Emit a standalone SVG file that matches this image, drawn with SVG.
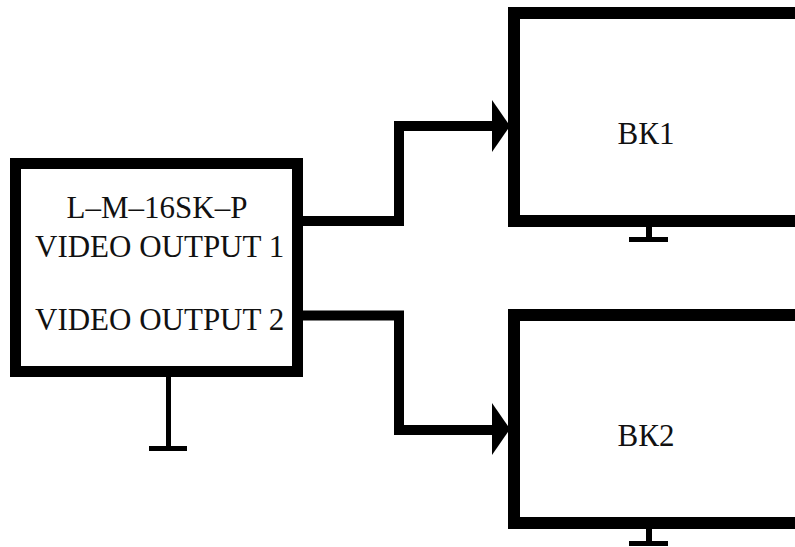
<svg xmlns="http://www.w3.org/2000/svg" width="795" height="547" viewBox="0 0 795 547">
<style>
.box{fill:#fff;stroke:#000}
.t{font-family:"Liberation Serif","Times New Roman",serif;font-size:31px;fill:#111}
.wire{fill:none;stroke:#000;stroke-width:10;stroke-linejoin:miter}
.stand{fill:#000}
</style>
<rect width="795" height="547" fill="#fff"/>
<g id="recorder">
<rect class="box" x="15.5" y="163.5" width="282" height="208" stroke-width="11"/>
<rect class="stand" x="166" y="377" width="5" height="72"/>
<rect class="stand" x="149" y="446" width="38" height="5"/>
<text class="t" x="157" y="218" text-anchor="middle">L–M–16SK–P</text>
<text class="t" x="35" y="257">VIDEO OUTPUT 1</text>
<text class="t" x="35" y="330">VIDEO OUTPUT 2</text>
</g>
<g id="bk1">
<rect class="box" x="514" y="13" width="400" height="208" stroke-width="12"/>
<rect class="stand" x="646" y="227" width="6" height="12"/>
<rect class="stand" x="629" y="237" width="39" height="5"/>
<text class="t" x="646" y="144" text-anchor="middle">ВК1</text>
</g>
<g id="bk2">
<rect class="box" x="514" y="315" width="400" height="208" stroke-width="12"/>
<rect class="stand" x="646" y="529" width="6" height="14"/>
<rect class="stand" x="629" y="541" width="39" height="5"/>
<text class="t" x="646" y="446" text-anchor="middle">ВК2</text>
</g>
<g id="connectors">
<path class="wire" d="M303 221 H399 V126 H494"/>
<polygon points="492,100 510,126 492,152" fill="#000"/>
<path class="wire" d="M303 315.5 H399 V430 H494"/>
<polygon points="492,403 510,429 492,455" fill="#000"/>
</g>
</svg>
